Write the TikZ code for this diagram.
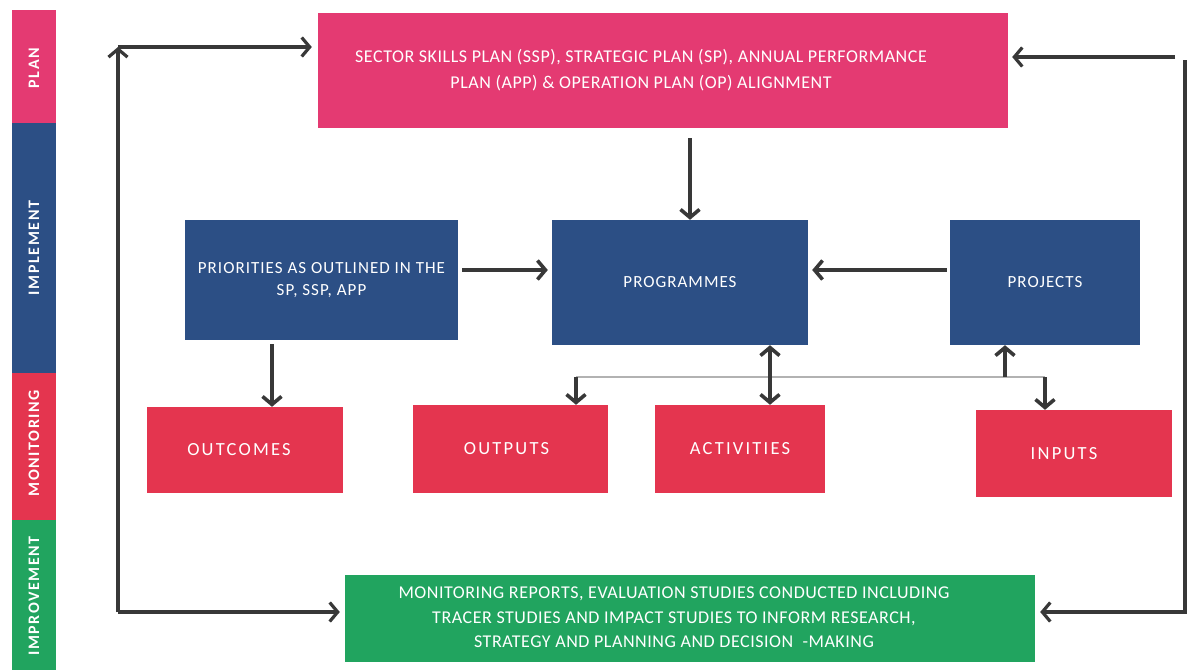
\documentclass[tikz,border=0pt]{standalone}
\usepackage{fontspec}
\setmainfont{Carlito}
\usetikzlibrary{arrows.meta}
\definecolor{cpink}{HTML}{E43A72}
\definecolor{cblue}{HTML}{2C4F85}
\definecolor{cred}{HTML}{E4354F}
\definecolor{cgreen}{HTML}{21A45F}
\definecolor{carrow}{HTML}{383838}
\tikzset{
  box/.style={draw=none, inner sep=0pt, text=white},
  bartext/.style={text=white, rotate=90, font=\bfseries\fontsize{16}{18}\selectfont\addfontfeature{LetterSpace=10}},
  bigtxt/.style={font=\fontsize{18}{26}\selectfont\addfontfeature{LetterSpace=3}},
  midtxt/.style={font=\fontsize{17}{22}\selectfont\addfontfeature{LetterSpace=6}},
  lowtxt/.style={font=\fontsize{18.5}{22}\selectfont\addfontfeature{LetterSpace=12}},
  conn/.style={draw=carrow, line width=3.6pt, -{Straight Barb[length=8pt,width=19pt,line width=3.6pt]}},
  loop/.style={draw=carrow, line width=3.2pt, -{Straight Barb[length=8pt,width=19pt,line width=3.2pt]}},
  branch/.style={draw=black!30, line width=1.6pt}
}
\begin{document}
\begin{tikzpicture}[x=1pt,y=-1pt]
\useasboundingbox[fill=white] (0,0) rectangle (1192,670);
% side bar
\fill[cpink] (12,10) rectangle (56,123);
\fill[cblue] (12,123) rectangle (56,373);
\fill[cred] (12,373) rectangle (56,520);
\fill[cgreen] (12,520) rectangle (56,670);
\node[bartext] (lplan) at (34,68) {PLAN};
\node[bartext] (limpl) at (34,248) {IMPLEMENT};
\node[bartext] (lmon) at (34,443) {MONITORING};
\node[bartext] (limp) at (34,596) {IMPROVEMENT};
% boxes
\node[box, fill=cpink, minimum width=690pt, minimum height=115pt, bigtxt] (ssp) at (663,70.5)
  {\hspace*{-44pt}\begin{tabular}{@{}c@{}}SECTOR SKILLS PLAN (SSP), STRATEGIC PLAN (SP), ANNUAL PERFORMANCE\\PLAN (APP) \& OPERATION PLAN (OP) ALIGNMENT\end{tabular}};
\node[box, fill=cblue, minimum width=273pt, minimum height=120pt, midtxt, align=center] (prio) at (321.5,280)
  {PRIORITIES AS OUTLINED IN THE\\SP, SSP, APP};
\node[box, fill=cblue, minimum width=256pt, minimum height=125pt, midtxt] (prog) at (680,282.5) {PROGRAMMES};
\node[box, fill=cblue, minimum width=190pt, minimum height=125pt, midtxt] (proj) at (1045,282.5) {PROJECTS};
\node[box, fill=cred, minimum width=196pt, minimum height=86pt, lowtxt] (outc) at (245,450) {\hspace*{-12pt}OUTCOMES};
\node[box, fill=cred, minimum width=195pt, minimum height=88pt, lowtxt] (outp) at (510.5,449) {\hspace*{-8pt}OUTPUTS};
\node[box, fill=cred, minimum width=170pt, minimum height=88pt, lowtxt] (act) at (740,449) {ACTIVITIES};
\node[box, fill=cred, minimum width=196pt, minimum height=87pt, lowtxt] (inp) at (1074,453.5) {\hspace*{-20pt}INPUTS};
\node[box, fill=cgreen, minimum width=690pt, minimum height=87pt, font=\fontsize{18}{24.5}\selectfont\addfontfeature{LetterSpace=3}] (impr) at (690,618.5)
  {\hspace*{-32pt}\begin{tabular}{@{}c@{}}MONITORING REPORTS, EVALUATION STUDIES CONDUCTED INCLUDING\\TRACER STUDIES AND IMPACT STUDIES TO INFORM RESEARCH,\\STRATEGY AND PLANNING AND DECISION\ \ -MAKING\end{tabular}};
% coordinates
\coordinate (lb) at (118,612);
\coordinate (lt) at (118,47);
\coordinate (rt) at (1185,57);
\coordinate (rb) at (1185,612);
\coordinate (b1) at (576,377);
\coordinate (b2) at (770,377);
\coordinate (b3) at (1005,377);
\coordinate (b4) at (1045,377);
% main connectors
\draw[conn] (ssp.south -| 690,0) ++(0,10) -- (prog.north -| 690,0);
\draw[conn] (prio.east |- 0,270) ++(4,0) -- ([xshift=-4pt]prog.west |- 0,270);
\draw[conn] (proj.west |- 0,270) ++(-3,0) -- ([xshift=4pt]prog.east |- 0,270);
\draw[conn] (prio.south -| 272,0) ++(0,4) -- (outc.north -| 272,0);
% branch
\draw[branch] (b1) -- (b4);
\draw[conn] (b1) -- (outp.north -| b1);
\draw[conn] (b2) -- (prog.south -| b2);
\draw[conn] (b2) -- (act.north -| b2);
\draw[conn] (b3) -- (proj.south -| b3);
\draw[conn] (b4) -- (inp.north -| b4);
% loops
\draw[loop] (lb) -- (lt);
\draw[loop] (lt) -- ([xshift=-6pt]ssp.west |- lt);
\draw[loop] (lb) -- ([xshift=-5pt]impr.west |- lb);
\draw[loop] (rt) ++(-10,0) -- ([xshift=4pt]ssp.east |- rt);
\draw[loop] (rt) ++(0,3) |- ([xshift=5pt]impr.east |- rb);
\end{tikzpicture}
\end{document}
